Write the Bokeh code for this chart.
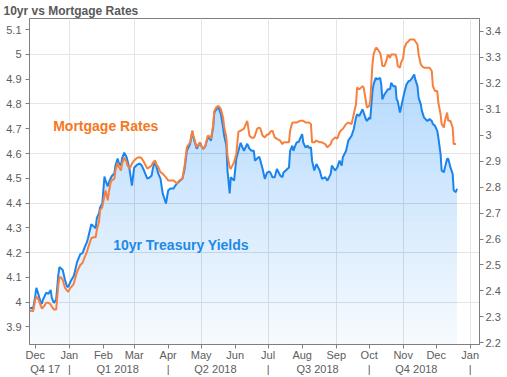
import math
import numpy as np
import pandas as pd
from bokeh.plotting import figure
from bokeh.models import (ColumnDataSource, Range1d, LinearAxis, DatetimeAxis, FixedTicker,
                          CustomJSTickFormatter, Label, PolyAnnotation)
from bokeh.embed import file_html
from bokeh.resources import INLINE

# ---------------- data ----------------
BASE_DATE = "2017-12-01"

day_offsets = [
    -5, -3, -2, 0, 1, 3, 5, 6, 7, 9,
    10, 12, 14, 15, 17, 19, 21, 22, 23, 25,
    27, 29, 30, 32, 33, 35, 36, 38, 41, 43,
    45, 47, 48, 51, 53, 55, 56, 58, 59, 61,
    63, 64, 66, 67, 69, 70, 72, 73, 75, 76,
    78, 79, 81, 83, 84, 86, 88, 90, 92, 93,
    95, 97, 99, 102, 104, 106, 107, 109, 110, 112,
    114, 116, 119, 121, 123, 126, 127, 129, 131, 134,
    136, 138, 141, 143, 144, 147, 148, 150, 151, 153,
    155, 157, 159, 160, 162, 163, 165, 167, 169, 171,
    172, 174, 175, 177, 178, 181, 183, 185, 187, 190,
    193, 195, 197, 199, 200, 202, 204, 205, 207, 209,
    211, 213, 214, 216, 218, 220, 223, 225, 226, 228,
    231, 232, 234, 235, 237, 238, 240, 241, 243, 244,
    246, 248, 249, 251, 252, 254, 256, 259, 261, 264,
    266, 269, 270, 273, 275, 277, 279, 280, 283, 285,
    288, 290, 292, 293, 295, 298, 299, 301, 302, 304,
    305, 307, 308, 310, 311, 314, 315, 316, 318, 320,
    321, 323, 324, 326, 328, 329, 330, 332, 333, 335,
    336, 338, 340, 341, 343, 345, 346, 348, 349, 351,
    352, 354, 357, 359, 361, 362, 364, 366, 367, 369,
    370, 372, 373, 375, 376, 378, 380, 381, 383, 384,
]

mortgage_rates = [
    3.963, 3.966, 3.962, 4.010, 4.022, 4.010, 3.986, 3.974, 3.978, 3.990,
    3.998, 3.998, 3.990, 3.982, 3.970, 3.970, 4.070, 4.098, 4.102, 4.090,
    4.058, 4.046, 4.042, 4.058, 4.062, 4.074, 4.090, 4.122, 4.150, 4.158,
    4.182, 4.202, 4.218, 4.258, 4.262, 4.262, 4.291, 4.323, 4.371, 4.383,
    4.431, 4.451, 4.411, 4.443, 4.491, 4.491, 4.499, 4.531, 4.563, 4.547,
    4.531, 4.559, 4.583, 4.567, 4.551, 4.539, 4.559, 4.572, 4.580, 4.583,
    4.585, 4.580, 4.565, 4.539, 4.545, 4.551, 4.563, 4.572, 4.559, 4.545,
    4.525, 4.519, 4.504, 4.491, 4.491, 4.491, 4.487, 4.479, 4.491, 4.499,
    4.551, 4.625, 4.645, 4.692, 4.672, 4.625, 4.632, 4.645, 4.632, 4.618,
    4.632, 4.672, 4.668, 4.659, 4.716, 4.772, 4.788, 4.792, 4.779, 4.745,
    4.708, 4.665, 4.592, 4.545, 4.538, 4.565, 4.598, 4.688, 4.692, 4.700,
    4.732, 4.672, 4.664, 4.664, 4.672, 4.700, 4.705, 4.700, 4.672, 4.665,
    4.676, 4.679, 4.688, 4.692, 4.665, 4.659, 4.652, 4.638, 4.644, 4.645,
    4.645, 4.692, 4.724, 4.725, 4.725, 4.725, 4.730, 4.732, 4.732, 4.732,
    4.725, 4.725, 4.725, 4.719, 4.645, 4.645, 4.652, 4.645, 4.645, 4.638,
    4.625, 4.638, 4.652, 4.665, 4.660, 4.685, 4.696, 4.699, 4.719, 4.725,
    4.719, 4.759, 4.799, 4.866, 4.859, 4.872, 4.866, 4.812, 4.785, 4.792,
    4.812, 4.960, 5.000, 5.026, 5.026, 5.006, 4.986, 4.953, 4.953, 4.980,
    5.000, 4.986, 5.000, 5.000, 5.000, 4.986, 4.953, 4.946, 4.966, 4.986,
    5.026, 5.046, 5.053, 5.060, 5.060, 5.060, 5.053, 5.040, 5.000, 4.960,
    4.953, 4.946, 4.946, 4.946, 4.933, 4.872, 4.852, 4.852, 4.805, 4.759,
    4.719, 4.705, 4.732, 4.765, 4.732, 4.732, 4.705, 4.638, 4.638, float("nan"),
]

treasury_yields = [
    2.333, 2.335, 2.331, 2.381, 2.412, 2.385, 2.354, 2.351, 2.366, 2.385,
    2.393, 2.389, 2.404, 2.374, 2.354, 2.366, 2.462, 2.492, 2.488, 2.481,
    2.443, 2.416, 2.416, 2.435, 2.443, 2.458, 2.473, 2.511, 2.542, 2.546,
    2.569, 2.588, 2.603, 2.657, 2.649, 2.642, 2.680, 2.699, 2.722, 2.737,
    2.841, 2.825, 2.803, 2.818, 2.837, 2.845, 2.852, 2.883, 2.910, 2.894,
    2.883, 2.910, 2.933, 2.917, 2.902, 2.864, 2.806, 2.875, 2.883, 2.887,
    2.891, 2.883, 2.864, 2.833, 2.837, 2.845, 2.871, 2.902, 2.883, 2.852,
    2.833, 2.776, 2.737, 2.787, 2.795, 2.795, 2.803, 2.814, 2.822, 2.833,
    2.871, 2.940, 2.967, 3.017, 2.991, 2.948, 2.956, 2.972, 2.960, 2.947,
    2.960, 2.991, 2.986, 2.979, 3.032, 3.087, 3.101, 3.106, 3.081, 3.030,
    2.998, 2.960, 2.864, 2.776, 2.838, 2.825, 2.909, 2.940, 2.971, 2.940,
    2.967, 2.948, 2.940, 2.940, 2.902, 2.910, 2.917, 2.902, 2.870, 2.832,
    2.856, 2.860, 2.856, 2.838, 2.838, 2.870, 2.845, 2.838, 2.856, 2.864,
    2.876, 2.940, 2.960, 2.940, 2.963, 2.972, 2.975, 2.986, 3.004, 2.972,
    2.953, 2.960, 2.952, 2.953, 2.902, 2.864, 2.889, 2.864, 2.832, 2.838,
    2.825, 2.851, 2.883, 2.864, 2.876, 2.902, 2.883, 2.915, 2.940, 2.979,
    2.998, 3.024, 3.068, 3.081, 3.074, 3.100, 3.087, 3.062, 3.055, 3.068,
    3.062, 3.170, 3.196, 3.221, 3.215, 3.221, 3.196, 3.138, 3.158, 3.170,
    3.177, 3.177, 3.202, 3.189, 3.189, 3.138, 3.132, 3.087, 3.106, 3.145,
    3.164, 3.196, 3.209, 3.209, 3.220, 3.234, 3.215, 3.189, 3.145, 3.119,
    3.094, 3.068, 3.055, 3.062, 3.055, 3.043, 3.036, 3.017, 2.991, 2.928,
    2.864, 2.857, 2.876, 2.909, 2.909, 2.876, 2.851, 2.787, 2.781, 2.794,
]

left_ticks = [3.9, 4.0, 4.1, 4.2, 4.3, 4.4, 4.5, 4.6, 4.7, 4.8, 4.9, 5.0, 5.1]
right_ticks = [2.2, 2.3, 2.4, 2.5, 2.6, 2.7, 2.8, 2.9, 3.0, 3.1, 3.2, 3.3, 3.4]

month_tick_dates = ["2017-12-01", "2018-01-01", "2018-02-01", "2018-03-01", "2018-04-01",
                    "2018-05-01", "2018-06-01", "2018-07-01", "2018-08-01", "2018-09-01",
                    "2018-10-01", "2018-11-01", "2018-12-01", "2019-01-01"]
month_labels = ["Dec", "Jan", "Feb", "Mar", "Apr", "May", "Jun", "Jul", "Aug", "Sep",
                "Oct", "Nov", "Dec", "Jan"]

quarter_labels = ["Q4 17", "Q1 2018", "Q2 2018", "Q3 2018", "Q4 2018"]
quarter_label_dates = ["2017-12-10", "2018-02-14", "2018-05-14", "2018-08-15", "2018-11-13"]
quarter_bounds = ["2018-01-01", "2018-04-01", "2018-07-01", "2018-10-01", "2019-01-01"]

# ---------------- styling ----------------
ORANGE = "#f8803e"
ORANGE_TXT = "#f5781f"
BLUE = "#1a84ec"
BLUE_TXT = "#1e8ae6"
FILL = "#1482e6"
AXIS = "#7f7f7f"
TXT = "#5c5c5c"
FONT = "Liberation Sans"

base = pd.Timestamp(BASE_DATE)


def ms(ts):
    return pd.Timestamp(ts).value / 1e6


def day_ms(d):
    return ms(base + pd.Timedelta(days=d))


dates = base + pd.to_timedelta(day_offsets, unit="D")
mort = np.array(mortgage_rates, dtype=float)
tsy = np.array(treasury_yields, dtype=float)
src = ColumnDataSource(dict(date=dates, mortgage=mort, treasury=tsy))

L_LO, L_HI = 3.829, 5.145
R_LO, R_HI = 2.1936, 3.4498
X_LO, X_HI = -5.26, 404.46
FRAME_H = 328.0

p = figure(width=507, height=377, output_backend="svg", toolbar_location=None,
           x_axis_type="datetime", x_axis_location=None, y_axis_location=None,
           x_range=Range1d(day_ms(X_LO), day_ms(X_HI)), y_range=Range1d(L_LO, L_HI),
           min_border_left=29, min_border_right=28, min_border_top=17, min_border_bottom=32,
           background_fill_color="white", border_fill_color="white",
           title="10yr vs Mortgage Rates")
p.extra_y_ranges = {"right": Range1d(R_LO, R_HI)}
p.outline_line_color = AXIS
p.outline_line_width = 1

p.title.text_font = FONT
p.title.text_font_size = "12px"
p.title.text_font_style = "bold"
p.title.text_color = "#595959"
p.title.align = "left"
p.title.offset = -26
p.title.standoff = 2


def style_axis(ax, standoff):
    ax.axis_line_color = AXIS
    ax.axis_line_width = 1
    ax.major_tick_line_color = AXIS
    ax.major_tick_in = 0
    ax.major_tick_out = 4
    ax.minor_tick_line_color = None
    ax.minor_tick_in = 0
    ax.minor_tick_out = 0
    ax.major_label_text_font = FONT
    ax.major_label_text_font_size = "11px"
    ax.major_label_text_color = TXT
    ax.major_label_standoff = standoff


num_fmt = "return (Math.round(tick * 10) / 10).toString();"
left_axis = LinearAxis(ticker=FixedTicker(ticks=left_ticks),
                       formatter=CustomJSTickFormatter(code=num_fmt))
style_axis(left_axis, 4)
right_axis = LinearAxis(y_range_name="right", ticker=FixedTicker(ticks=right_ticks),
                        formatter=CustomJSTickFormatter(code=num_fmt))
style_axis(right_axis, 2)

lookup_code = """
let best = 0, bd = Infinity;
for (let i = 0; i < pos.length; i++) {
  const d = Math.abs(pos[i] - tick);
  if (d < bd) { bd = d; best = i; }
}
return labels[best];
"""
month_ms = [ms(d) for d in month_tick_dates]
month_axis = DatetimeAxis(ticker=FixedTicker(ticks=month_ms),
                          formatter=CustomJSTickFormatter(args=dict(pos=month_ms, labels=month_labels),
                                                          code=lookup_code))
style_axis(month_axis, 0)

# quarter row: names at mid-quarter, a bar glyph at each quarter boundary
q_pos = [ms(d) for d in quarter_label_dates] + [ms(d) for d in quarter_bounds]
q_txt = list(quarter_labels) + ["|"] * len(quarter_bounds)
quarter_axis = DatetimeAxis(ticker=FixedTicker(ticks=sorted(q_pos)),
                            formatter=CustomJSTickFormatter(args=dict(pos=q_pos, labels=q_txt),
                                                            code=lookup_code))
style_axis(quarter_axis, -1)
quarter_axis.axis_line_color = None
quarter_axis.major_tick_line_color = None
quarter_axis.major_tick_out = 0

# empty spacer axis that gives back the few pixels the quarter labels overhang
spacer = DatetimeAxis(ticker=FixedTicker(ticks=[]),
                      formatter=CustomJSTickFormatter(code="return '';"))
style_axis(spacer, -5)
spacer.axis_line_color = None
spacer.major_tick_line_color = None
spacer.major_tick_out = 0
spacer.major_label_text_font_size = "0px"

p.add_layout(left_axis, "left")
p.add_layout(right_axis, "right")
p.add_layout(month_axis, "below")
p.add_layout(quarter_axis, "below")
p.add_layout(spacer, "below")

# gradient area under the treasury line
p.varea(x="date", y1=R_LO, y2="treasury", source=src, y_range_name="right",
        fill_color=FILL, fill_alpha=0.03)
N = 40
for k in range(N):
    t = R_LO + (R_HI - R_LO) * k / N
    p.varea(x=dates, y1=t, y2=np.maximum(tsy, t), y_range_name="right",
            fill_color=FILL, fill_alpha=0.007)

p.line(x="date", y="treasury", source=src, y_range_name="right",
       line_color=BLUE, line_width=2)
p.line(x="date", y="mortgage", source=src, line_color=ORANGE, line_width=2)

# series labels
p.add_layout(Label(x=day_ms(16.3), y=4.712, text="Mortgage Rates", text_font=FONT,
                   text_font_style="bold", text_font_size="14px", text_color=ORANGE_TXT,
                   text_align="left", text_baseline="middle"))
p.add_layout(Label(x=day_ms(70.9), y=4.230, text="10yr Treasury Yields", text_font=FONT,
                   text_font_style="bold", text_font_size="14px", text_color=BLUE_TXT,
                   text_align="left", text_baseline="middle"))

# latest-value markers just outside the axes
last_m = float(mort[~np.isnan(mort)][-1])
last_t = float(tsy[-1])
px_day = 450.0 / (X_HI - X_LO)
cx = X_LO - 6.3 / px_day
hw = 3.8 / px_day
hh = 3.8 * (L_HI - L_LO) / FRAME_H
p.add_layout(PolyAnnotation(xs=[day_ms(cx - hw), day_ms(cx), day_ms(cx + hw), day_ms(cx)],
                            ys=[last_m, last_m + hh, last_m, last_m - hh],
                            fill_color=ORANGE, fill_alpha=1.0, line_color=ORANGE, line_width=1))
cxr = X_HI + 4.0 / px_day
rw = 3.6 / px_day
rh = 3.6 * (R_HI - R_LO) / FRAME_H
angs = np.linspace(0, 2 * math.pi, 24, endpoint=False)
p.add_layout(PolyAnnotation(xs=[day_ms(cxr + rw * math.cos(a)) for a in angs],
                            ys=[last_t + rh * math.sin(a) for a in angs],
                            y_range_name="right",
                            fill_color=BLUE, fill_alpha=1.0, line_color=BLUE, line_width=1))

open("out.html", "w").write(file_html(p, INLINE))
